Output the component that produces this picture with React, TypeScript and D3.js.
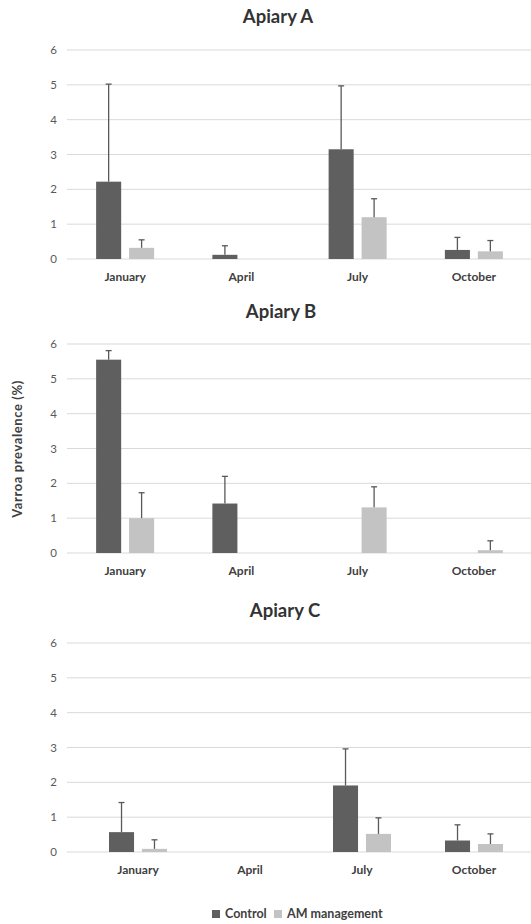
import React from 'react';
import * as d3 from 'd3';

// months on the x axis
const months = ['January', 'April', 'July', 'October'];
const apiaries = ['Apiary A', 'Apiary B', 'Apiary C'];
const seriesNames = ['Control', 'AM management'];
const yTicks = [0, 1, 2, 3, 4, 5, 6];

// mean prevalence (%) per month, null = no bar
const controlA = [2.22, 0.12, 3.15, 0.26];
const controlAErr = [2.8, 0.26, 1.82, 0.36];
const amA = [0.32, null, 1.2, 0.22];
const amAErr = [0.23, null, 0.53, 0.31];

const controlB = [5.55, 1.42, null, null];
const controlBErr = [0.26, 0.78, null, null];
const amB = [1.0, null, 1.31, 0.08];
const amBErr = [0.73, null, 0.59, 0.27];

const controlC = [0.57, null, 1.91, 0.33];
const controlCErr = [0.85, null, 1.05, 0.45];
const amC = [0.09, null, 0.52, 0.23];
const amCErr = [0.26, null, 0.46, 0.29];

const panelData = [
  { control: controlA, controlErr: controlAErr, am: amA, amErr: amAErr },
  { control: controlB, controlErr: controlBErr, am: amB, amErr: amBErr },
  { control: controlC, controlErr: controlCErr, am: amC, amErr: amCErr },
];

// panel geometry
const panels = [
  { top: 50, bottom: 259, x0: 67, x1: 532, titleX: 278, titleY: 23 },
  { top: 344, bottom: 553, x0: 67, x1: 532, titleX: 281, titleY: 318 },
  { top: 643, bottom: 852, x0: 82, x1: 530, titleX: 285, titleY: 617 },
];

const colors = ['#5f5f5f', '#c3c3c3'];
const font = 'Lato, "Open Sans", sans-serif';

const Panel = ({ idx }: { idx: number }) => {
  const p = panels[idx];
  const d = panelData[idx];
  const y = d3.scaleLinear().domain([0, 6]).range([p.bottom, p.top]);
  const x = d3.scaleBand().domain(months).range([p.x0, p.x1]);
  const inner = d3.scaleBand().domain(['control', 'am']).range([-29, 29]).paddingInner(0.24);

  const series = [
    { key: 'control', vals: d.control, errs: d.controlErr, color: colors[0] },
    { key: 'am', vals: d.am, errs: d.amErr, color: colors[1] },
  ];

  return (
    <g>
      <text x={p.titleX} y={p.titleY} textAnchor="middle" fontSize={18.5} fontWeight="bold" fill="#333" fontFamily={font}>
        {apiaries[idx]}
      </text>
      {yTicks.map(t => (
        <g key={t}>
          <line x1={67} x2={531} y1={y(t)} y2={y(t)} stroke="#d9d9d9" strokeWidth={1} />
          <text x={57} y={y(t)} dy="0.35em" textAnchor="end" fontSize={11.5} fill="#595959" fontFamily={font}>
            {t}
          </text>
        </g>
      ))}
      {series.map(s =>
        months.map((m, i) => {
          const v = s.vals[i];
          if (v == null) return null;
          const cx = (x(m) as number) + x.bandwidth() / 2;
          const bx = cx + (inner(s.key) as number);
          const bw = inner.bandwidth();
          const e = s.errs[i] ?? 0;
          const mid = bx + bw / 2;
          return (
            <g key={s.key + m}>
              <rect x={bx} y={y(v)} width={bw} height={y(0) - y(v)} fill={s.color} />
              <line x1={mid} x2={mid} y1={y(v)} y2={y(v + e)} stroke="#595959" strokeWidth={1.3} />
              <line x1={mid - 3} x2={mid + 3} y1={y(v + e)} y2={y(v + e)} stroke="#595959" strokeWidth={1.3} />
            </g>
          );
        })
      )}
      {months.map(m => (
        <text key={m} x={(x(m) as number) + x.bandwidth() / 2} y={p.bottom + 22} textAnchor="middle" fontSize={12} fontWeight="bold" fill="#404040" fontFamily={font}>
          {m}
        </text>
      ))}
    </g>
  );
};

const App = () => {
  return (
    <svg width={531} height={924} style={{ position: 'absolute', left: 0, top: 0, background: '#fff' }}>
      <rect width={531} height={924} fill="#fff" />
      {panels.map((_, i) => (
        <Panel key={i} idx={i} />
      ))}
      <text transform="translate(22,449) rotate(-90)" textAnchor="middle" fontSize={13} letterSpacing={0.6} fontWeight="bold" fill="#404040" fontFamily={font}>
        Varroa prevalence (%)
      </text>
      <g fontFamily={font} fontSize={12.5} fontWeight="bold" fill="#404040">
        <rect x={212} y={910} width={8} height={8} fill={colors[0]} />
        <text x={225} y={918}>{seriesNames[0]}</text>
        <rect x={274} y={910} width={8} height={8} fill={colors[1]} />
        <text x={287} y={918}>{seriesNames[1]}</text>
      </g>
    </svg>
  );
};

export default App;
